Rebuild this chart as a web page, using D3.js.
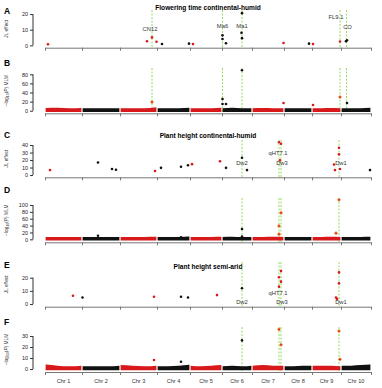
<!DOCTYPE html>
<html>
<head>
<meta charset="utf-8">
<script src="https://cdn.jsdelivr.net/npm/d3@7"></script>
<style>
body { margin: 0; background: #fff; }
svg { display: block; font-family: 'Liberation Sans', Arial, sans-serif; }
</style>
</head>
<body>
<svg width="382" height="388"></svg>
<script>
const svg = d3.select('svg')
const red = '#d7191c'
const black = '#111'
const green = '#7fd13b'

// chromosomes (size in hundreds of SNPs)
const chrNames = ['Chr 1', 'Chr 2', 'Chr 3', 'Chr 4', 'Chr 5', 'Chr 6', 'Chr 7', 'Chr 8', 'Chr 9', 'Chr 10']
const chrSize = [37, 38, 37, 33, 32, 30, 32, 28, 29, 30]
const chrStart = Array.from(d3.cumsum([0].concat(chrSize)))

// candidate loci: [name, chr, pos]
const floweringLoci = [['CN12', 3, 32], ['Ma6', 6, 0.5], ['Ma1', 6, 20], ['FL9.1', 9, 28], ['CO', 10, 5.5]]
const heightLoci = [['Dw2', 6, 20], ['qHT7.1', 7, 27], ['Dw3', 7, 29], ['Dw1', 9, 27]]

// JL effects: [chr, pos, effect]
const jlFloweringCH = [
	[1, 3, 0.7], [3, 27, 2.6], [3, 32, 5.1], [3, 36.5, 2.3], [4, 5, 0.9], [4, 32, 1.1], [5, 3, 0.8],
	[6, 0.5, 6.4], [6, 0.5, 4.1], [6, 4, 1.3], [6, 20, 20.6], [6, 19.5, 8.0], [6, 20, 4.6],
	[7, 31.5, 1.5], [8, 25, 1.1], [9, 1, 0.8], [9, 28, 2.5], [10, 5, 2.6], [10, 6, 3.3]
]
const jlHeightCH = [
	[1, 5, 6.6], [2, 16, 16.7], [2, 30, 8], [2, 34, 7], [3, 35, 5.3], [4, 4, 9.6], [4, 24, 11],
	[4, 31, 13], [5, 2, 14.5], [5, 30, 18.4], [6, 4, 9.6], [6, 20, 23], [6, 25, 6.6],
	[7, 27, 43.8], [7, 29, 41.7], [7, 28, 19.7], [9, 27, 36.4], [9, 27, 27.6], [9, 22, 14],
	[9, 23, 6.6], [9, 28, 8], [10, 29, 6.6]
]
const jlHeightSA = [
	[1, 28, 6.3], [2, 0.5, 5], [3, 34, 5.6], [4, 24, 5.6], [4, 31, 5], [5, 27, 6.8], [6, 20, 12],
	[7, 29, 25], [7, 27, 20.3], [7, 29, 17], [7, 27, 13.2], [9, 27, 24], [9, 27, 15.7],
	[9, 24, 5], [9, 25, 3.8]
]

// MLM top hits: [chr, pos, -log10 P, highlighted]
const mlmFloweringCH = [
	[3, 32, 19, 1], [6, 0.5, 25.7, 0], [6, 0.5, 14.7, 0], [6, 4, 14.7, 0], [6, 20, 89, 0],
	[7, 31.5, 17, 0], [9, 1, 12.5, 0], [9, 28, 30, 1], [10, 6, 17, 0]
]
const mlmHeightCH = [
	[2, 16, 10.5, 0], [4, 24, 6, 0], [6, 20, 30, 0], [6, 20, 8, 0], [7, 29, 77, 1],
	[7, 27, 39, 1], [7, 27, 15, 1], [9, 27, 115, 1], [9, 24, 18, 1]
]
const mlmHeightSA = [
	[3, 34, 8.2, 0], [4, 24, 6.6, 0], [6, 20, 26, 0], [7, 27, 36, 1], [7, 29, 22, 1],
	[9, 27, 34.5, 1], [9, 28, 8.8, 1]
]

// background SNP cloud: max -log10 P along each chromosome
const bgFloweringCH = [
	[3.5, 4, 3, 3.5], [2.5, 3, 3, 3], [3, 3, 3, 5], [3, 2.5, 3, 4], [3, 3, 3, 4],
	[3, 4, 3, 3], [3, 3.5, 3, 3], [2.5, 2.5, 3, 3], [3, 3, 3.5, 3], [3, 3, 3, 4]
]
const bgHeightCH = [
	[3.5, 3.5, 3, 3.5], [3, 3.5, 3.5, 3.5], [3.5, 3.5, 3.5, 4], [3, 3, 3.5, 5], [3.5, 3.5, 3.5, 4],
	[3, 4, 3, 3], [3.5, 3.5, 4, 3.5], [3, 3, 3.5, 3.5], [3.5, 3.5, 4, 3.5], [3, 3.5, 3.5, 4]
]
const bgHeightSA = [
	[3, 2, 1.5, 2], [1.5, 1.5, 1.5, 2], [2.5, 2, 1.5, 2], [1.5, 1.5, 2, 2.8], [2, 1.5, 2, 2.5],
	[1.5, 2, 1.5, 2], [2, 2.5, 2, 2], [1.5, 1.5, 2, 2], [2, 2, 2, 1.5], [2, 2, 2.5, 3]
]

const x = d3.scaleLinear().domain([0, chrStart[10]]).range([45, 371])
const gpos = (c, p) => chrStart[c - 1] + p
const chrColor = c => (c % 2 === 1 ? red : black)

const panels = [
	{ letter: 'A', type: 'jl', data: jlFloweringCH, loci: floweringLoci, ticks: [0, 10, 20],
		domain: [-1.5, 22.6], range: [47.7, 10], title: 'Flowering time continental-humid', titleY: 10, letterY: 13.5,
		labels: { CN12: [10.4, -2], Ma6: [12.3, 0], Ma1: [12.3, 0], 'FL9.1': [18.1, -4], CO: [11.7, 1] } },
	{ letter: 'B', type: 'mlm', data: mlmFloweringCH, bg: bgFloweringCH, loci: floweringLoci, ticks: [0, 20, 40, 60, 80],
		domain: [-5.7, 93.8], range: [113.3, 68], letterY: 66 },
	{ letter: 'C', type: 'jl', data: jlHeightCH, loci: heightLoci, ticks: [0, 10, 20, 30, 40],
		domain: [-3, 46.7], range: [177.3, 140], title: 'Plant height continental-humid', titleY: 138, letterY: 138,
		labels: { Dw2: [15.6, 0], 'qHT7.1': [29.8, -1], Dw3: [15.6, 1], Dw1: [15.6, 2] } },
	{ letter: 'D', type: 'mlm', data: mlmHeightCH, bg: bgHeightCH, loci: heightLoci, ticks: [0, 20, 40, 60, 80, 100],
		domain: [-8.7, 120.4], range: [242.3, 198], letterY: 193 },
	{ letter: 'E', type: 'jl', data: jlHeightSA, loci: heightLoci, ticks: [0, 10, 20],
		domain: [-2, 31.9], range: [306.7, 262], title: 'Plant height semi-arid', titleY: 269, letterY: 268,
		labels: { Dw2: [1.8, 0], 'qHT7.1': [8.2, -1], Dw3: [1.8, 1], Dw1: [1.8, 2] } },
	{ letter: 'F', type: 'mlm', data: mlmHeightSA, bg: bgHeightSA, loci: heightLoci, ticks: [0, 10, 20, 30],
		domain: [-2.7, 38.2], range: [372, 327], letterY: 325, chrLabels: true }
]

panels.forEach(p => {
	const y = d3.scaleLinear().domain(p.domain).range(p.range)
	const g = svg.append('g')

	g.append('text')
		.attr('x', 4).attr('y', p.letterY)
		.attr('font-size', 8.5).attr('font-weight', 'bold')
		.text(p.letter)

	if (p.title) {
		g.append('text')
			.attr('x', 208).attr('y', p.titleY)
			.attr('text-anchor', 'middle')
			.attr('font-size', 6.6).attr('font-weight', 'bold').attr('fill', '#000')
			.text(p.title)
	}

	// y axis, R style: line only between the ticks
	const yAxis = g.append('g')
		.attr('transform', 'translate(33,0)')
		.call(d3.axisLeft(y).tickValues(p.ticks).tickSize(3).tickPadding(2))
	yAxis.select('.domain').remove()
	yAxis.append('line')
		.attr('y1', y(p.ticks[0])).attr('y2', y(p.ticks[p.ticks.length - 1]))
		.attr('stroke', '#333')
	yAxis.selectAll('.tick line').attr('stroke', '#333')
	yAxis.selectAll('text').attr('font-size', 5.5).attr('fill', '#222').attr('font-family', null)

	// y axis title
	const yt = g.append('text')
		.attr('transform', `translate(8,${(p.range[0] + p.range[1]) / 2}) rotate(-90)`)
		.attr('text-anchor', 'middle')
		.attr('font-size', 4.8).attr('fill', '#333')
	if (p.type === 'jl') {
		yt.text('JL effect')
	} else {
		yt.append('tspan').text('\u2212log')
		yt.append('tspan').attr('font-size', 3.5).attr('dy', 1.2).text('10')
		yt.append('tspan').attr('dy', -1.2).text('(')
		yt.append('tspan').attr('font-style', 'italic').text('P')
		yt.append('tspan').text(') MLM')
	}

	// x axis
	const xAxis = g.append('g')
		.attr('transform', `translate(0,${p.range[0]})`)
		.call(d3.axisBottom(x).tickValues(chrStart).tickSize(3).tickSizeOuter(0).tickFormat(''))
	xAxis.selectAll('path, line').attr('stroke', '#777')

	if (p.chrLabels) {
		g.selectAll('.chr')
			.data(chrNames)
			.enter()
			.append('text')
			.attr('x', (d, i) => x(chrStart[i] + chrSize[i] / 2))
			.attr('y', 383)
			.attr('text-anchor', 'middle')
			.attr('font-size', 5.6).attr('fill', '#333')
			.text(d => d)
	}

	// candidate gene lines
	g.selectAll('.locus')
		.data(p.loci)
		.enter()
		.append('line')
		.attr('x1', d => x(gpos(d[1], d[2]))).attr('x2', d => x(gpos(d[1], d[2])))
		.attr('y1', p.range[1]).attr('y2', p.range[0])
		.attr('stroke', green).attr('stroke-width', 0.8)
		.attr('stroke-dasharray', '2,1.5')

	// background SNP band
	if (p.bg) {
		p.bg.forEach((env, i) => {
			const n = env.length
			const pts = env.map((v, k) => [chrStart[i] + 0.6 + k * (chrSize[i] - 1.2) / (n - 1), v])
			const area = d3.area()
				.x(d => x(d[0]))
				.y0(y(0) + 1.2)
				.y1(d => y(d[1]) - 1.2)
				.curve(d3.curveMonotoneX)
			g.append('path')
				.attr('d', area(pts))
				.attr('fill', chrColor(i + 1))
		})
	}

	// points
	g.selectAll('.pt')
		.data(p.data)
		.enter()
		.append('circle')
		.attr('cx', d => x(gpos(d[0], d[1])))
		.attr('cy', d => y(d[2]))
		.attr('r', 1.3)
		.attr('fill', d => chrColor(d[0]))
		.attr('stroke', d => (d[3] ? '#f39c3c' : 'none'))
		.attr('stroke-width', 0.7)

	// locus labels
	if (p.labels) {
		g.selectAll('.lab')
			.data(p.loci)
			.enter()
			.append('text')
			.attr('x', d => x(gpos(d[1], d[2])) + p.labels[d[0]][1])
			.attr('y', d => y(p.labels[d[0]][0]))
			.attr('dy', '0.35em')
			.attr('text-anchor', 'middle')
			.attr('font-size', 5.8).attr('fill', '#333')
			.text(d => d[0])
	}
})
</script>
</body>
</html>
